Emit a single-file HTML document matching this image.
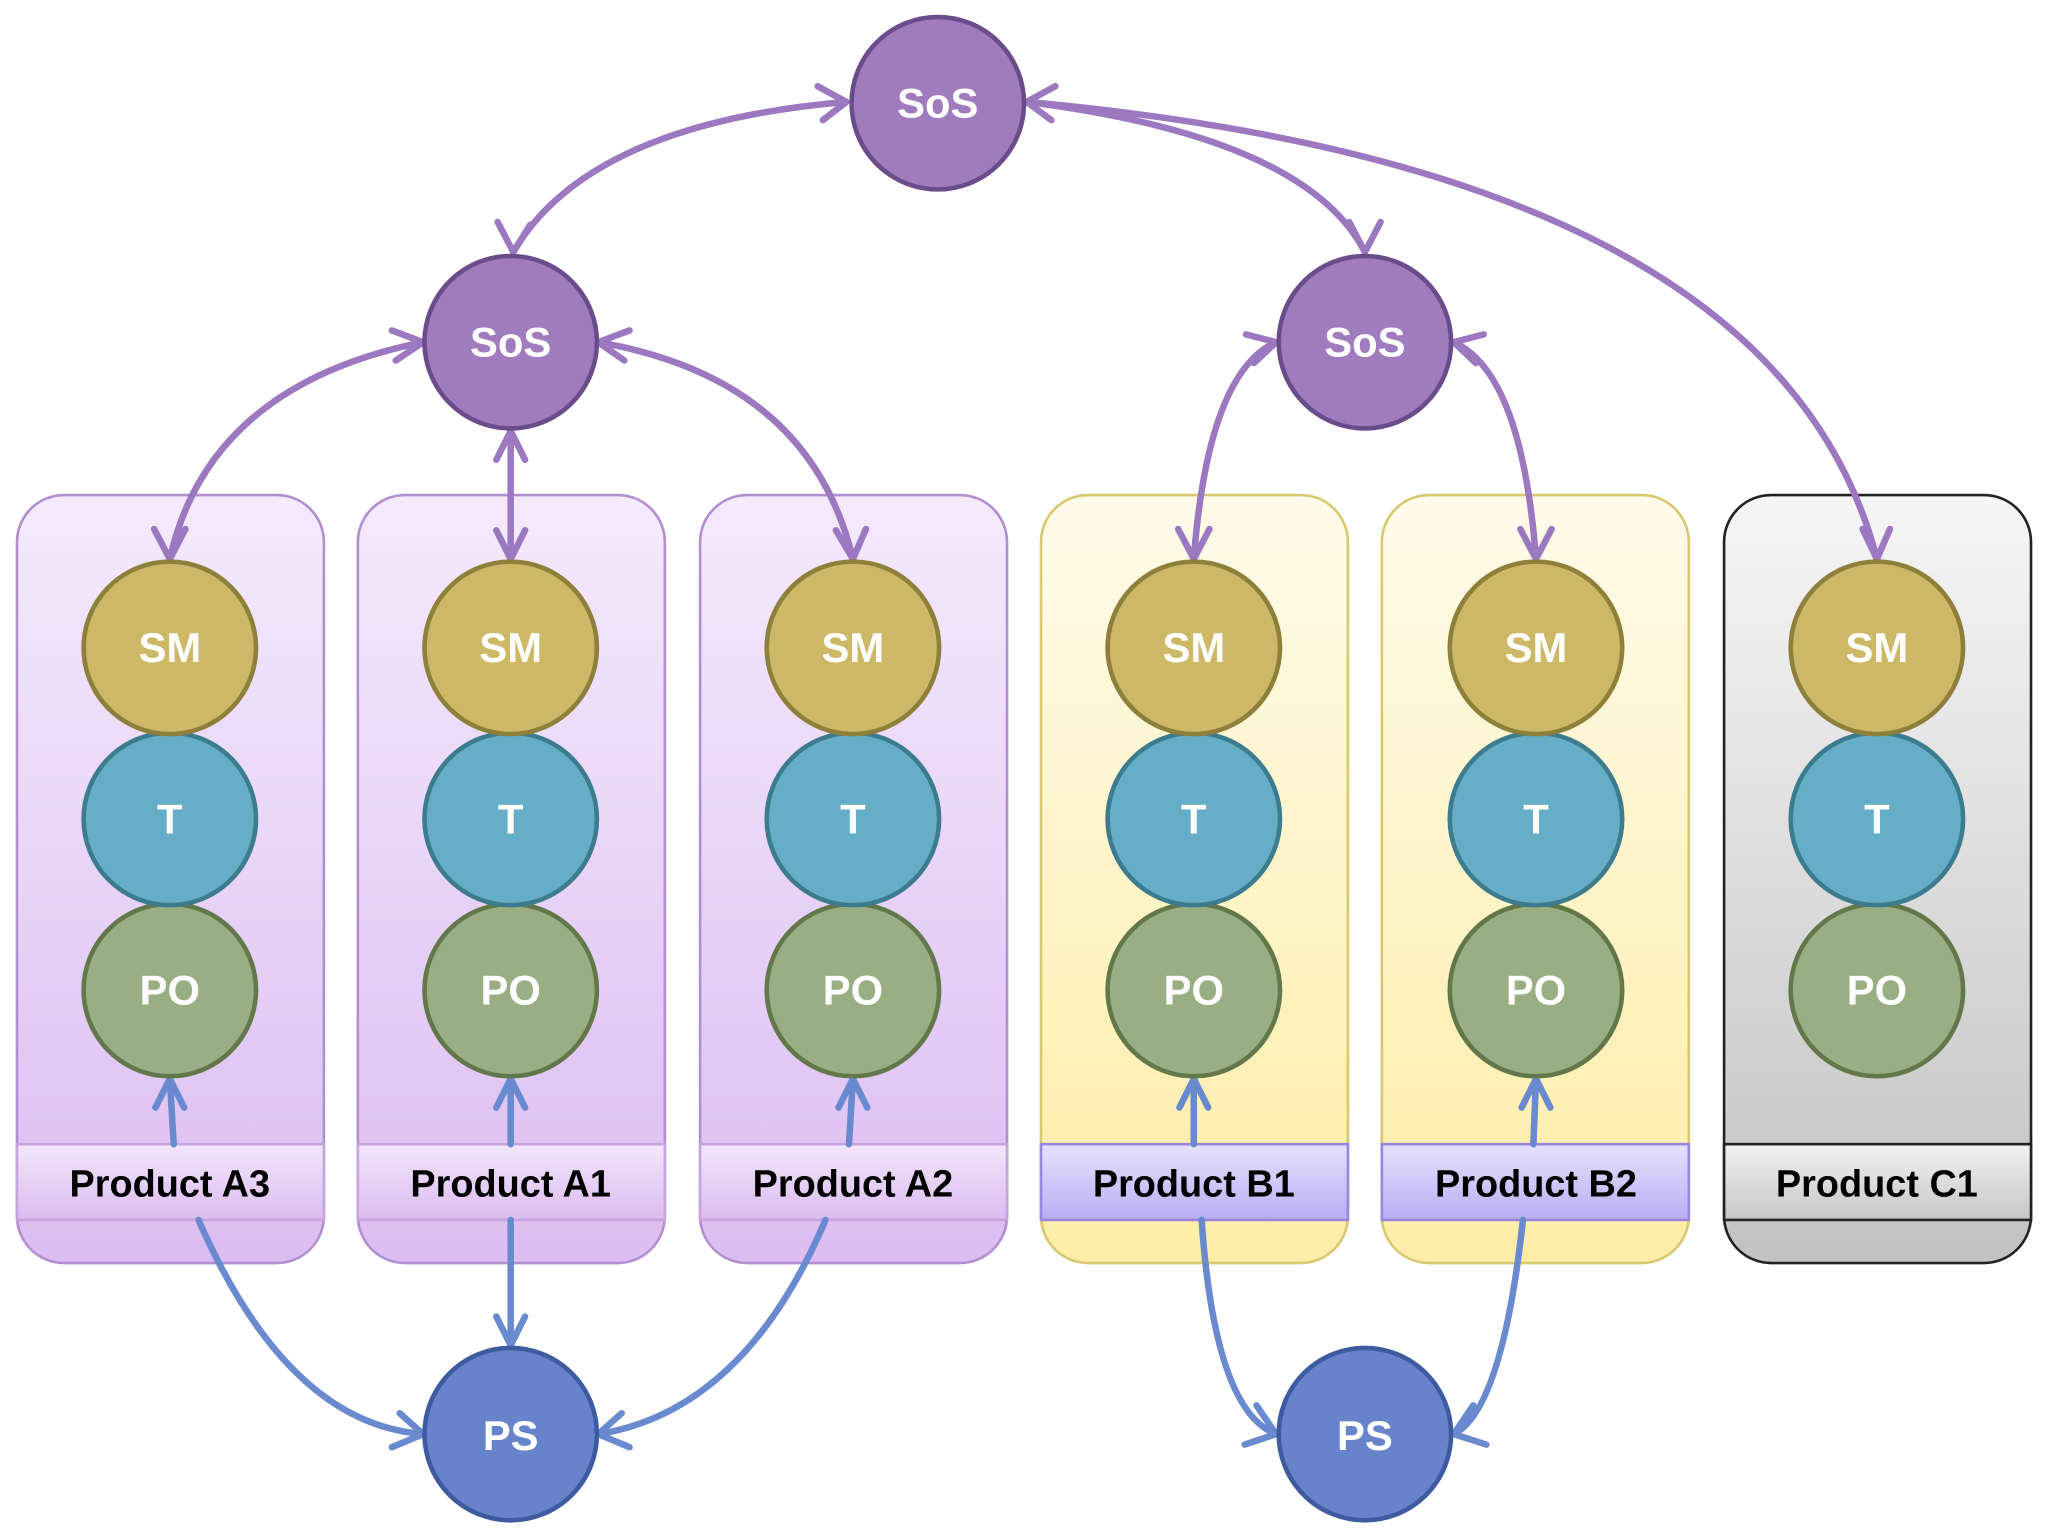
<!DOCTYPE html>
<html><head><style>html,body{margin:0;padding:0;background:#fff;}svg{display:block}</style></head>
<body>
<svg width="2048" height="1536" viewBox="0 0 1568 1176" xmlns="http://www.w3.org/2000/svg" font-family="Liberation Sans, sans-serif">
<defs>
<linearGradient id="gp" x1="0" y1="0" x2="0" y2="1"><stop offset="0" stop-color="#f4eafc"/><stop offset="1" stop-color="#dcbdf2"/></linearGradient>
<linearGradient id="gy" x1="0" y1="0" x2="0" y2="1"><stop offset="0" stop-color="#fffbea"/><stop offset="1" stop-color="#fdeda6"/></linearGradient>
<linearGradient id="gg" x1="0" y1="0" x2="0" y2="1"><stop offset="0" stop-color="#f6f6f6"/><stop offset="1" stop-color="#c2c2c2"/></linearGradient>
<linearGradient id="lp" x1="0" y1="0" x2="0" y2="1"><stop offset="0" stop-color="#f3e6fb"/><stop offset="1" stop-color="#dbbcf0"/></linearGradient>
<linearGradient id="lb" x1="0" y1="0" x2="0" y2="1"><stop offset="0" stop-color="#e6e2fc"/><stop offset="1" stop-color="#b8aef4"/></linearGradient>
<linearGradient id="lg" x1="0" y1="0" x2="0" y2="1"><stop offset="0" stop-color="#f2f2f2"/><stop offset="1" stop-color="#c6c6c6"/></linearGradient>
<marker id="mp" viewBox="0 0 10 10" refX="9" refY="5" markerWidth="6" markerHeight="6" orient="auto-start-reverse" markerUnits="userSpaceOnUse" style="overflow:visible">
</marker>
</defs>
<!-- boxes -->
<g stroke-width="2">
<rect x="13" y="379" width="235" height="588" rx="36" fill="url(#gp)" stroke="#b48fd0"/>
<rect x="274" y="379" width="235" height="588" rx="36" fill="url(#gp)" stroke="#b48fd0"/>
<rect x="536" y="379" width="235" height="588" rx="36" fill="url(#gp)" stroke="#b48fd0"/>
<rect x="797" y="379" width="235" height="588" rx="36" fill="url(#gy)" stroke="#d8c970"/>
<rect x="1058" y="379" width="235" height="588" rx="36" fill="url(#gy)" stroke="#d8c970"/>
<rect x="1320" y="379" width="235" height="588" rx="36" fill="url(#gg)" stroke="#222"/>
<rect x="13" y="876" width="235" height="58" fill="url(#lp)" stroke="#c7a3e0"/>
<rect x="274" y="876" width="235" height="58" fill="url(#lp)" stroke="#c7a3e0"/>
<rect x="536" y="876" width="235" height="58" fill="url(#lp)" stroke="#c7a3e0"/>
<rect x="797" y="876" width="235" height="58" fill="url(#lb)" stroke="#9a86e0"/>
<rect x="1058" y="876" width="235" height="58" fill="url(#lb)" stroke="#9a86e0"/>
<rect x="1320" y="876" width="235" height="58" fill="url(#lg)" stroke="#222"/>
</g>
<g font-size="29" font-weight="bold" fill="#000" text-anchor="middle">
<text x="130" y="916">Product A3</text><text x="391" y="916">Product A1</text><text x="653" y="916">Product A2</text>
<text x="914" y="916">Product B1</text><text x="1176" y="916">Product B2</text><text x="1437" y="916">Product C1</text>
</g>
<!-- purple connectors -->
<g fill="none" stroke="#9c78c0" stroke-width="5" stroke-linecap="round" stroke-linejoin="round">
<path d="M648,78 Q450,95 393,193"/>
<path d="M786,78 Q1000,105 1045,193"/>
<path d="M786,78 Q1360,130 1437,428"/>
<path d="M324,262 Q160,295 130,428"/>
<path d="M391,330 L391,428"/>
<path d="M458,262 Q620,290 653,428"/>
<path d="M977,262 Q925,285 914,428"/>
<path d="M1113,262 Q1165,285 1176,428"/>
<!-- arrowheads -->
<path d="M626,66 L648,78 L630,92"/>
<path d="M381,170 L393,193 L406,172"/>
<path d="M808,66 L786,78 L805,92"/>
<path d="M1033,170 L1045,193 L1057,170"/>
<path d="M1426,405 L1437,428 L1447,405"/>
<path d="M300,253 L324,262 L303,276"/>
<path d="M118,405 L130,428 L142,405"/>
<path d="M380,352 L391,330 L402,352"/>
<path d="M380,406 L391,428 L402,406"/>
<path d="M482,253 L458,262 L478,276"/>
<path d="M640,406 L653,428 L663,405"/>
<path d="M954,256 L977,262 L960,278"/>
<path d="M902,405 L914,428 L926,405"/>
<path d="M1136,256 L1113,262 L1130,278"/>
<path d="M1164,405 L1176,428 L1188,405"/>
</g>
<!-- blue connectors -->
<g fill="none" stroke="#6a8ad0" stroke-width="5" stroke-linecap="round" stroke-linejoin="round">
<path d="M133,876 L130,826"/><path d="M391,876 L391,826"/><path d="M650,876 L653,826"/>
<path d="M914,876 L914,826"/><path d="M1174,876 L1176,826"/>
<path d="M119,848 L130,826 L141,848"/><path d="M380,848 L391,826 L402,848"/><path d="M642,848 L653,826 L664,848"/>
<path d="M903,848 L914,826 L925,848"/><path d="M1165,848 L1176,826 L1187,848"/>
<path d="M152,934 Q220,1090 324,1098"/>
<path d="M391,934 L391,1030"/>
<path d="M632,934 Q570,1080 458,1098"/>
<path d="M920,934 Q930,1080 977,1098"/>
<path d="M1166,934 Q1150,1080 1113,1098"/>
<path d="M306,1082 L324,1098 L300,1108"/>
<path d="M380,1008 L391,1030 L402,1008"/>
<path d="M476,1082 L458,1098 L482,1108"/>
<path d="M962,1076 L977,1098 L953,1106"/>
<path d="M1128,1076 L1113,1098 L1138,1106"/>
</g>
<!-- circles -->
<g stroke-width="3.5">
<circle cx="718" cy="79" r="66" fill="#a07bbd" stroke="#6b4c8a"/>
<circle cx="391" cy="262" r="66" fill="#a07bbd" stroke="#6b4c8a"/>
<circle cx="1045" cy="262" r="66" fill="#a07bbd" stroke="#6b4c8a"/>
<circle cx="391" cy="1098" r="66" fill="#6784cb" stroke="#3f5ba0"/>
<circle cx="1045" cy="1098" r="66" fill="#6784cb" stroke="#3f5ba0"/>
</g>
<g stroke-width="3.5">
<g id="c1">
<circle cx="130" cy="758" r="66" fill="#9aae84" stroke="#62784a"/>
<circle cx="130" cy="627" r="66" fill="#66aec7" stroke="#3d7b8e"/>
<circle cx="130" cy="496" r="66" fill="#ccb866" stroke="#8e7f3a"/>
</g>
<use href="#c1" x="261"/><use href="#c1" x="523"/><use href="#c1" x="784"/><use href="#c1" x="1046"/><use href="#c1" x="1307"/>
</g>
<g font-size="32" font-weight="bold" fill="#fff" text-anchor="middle">
<text x="718" y="90">SoS</text><text x="391" y="273">SoS</text><text x="1045" y="273">SoS</text>
<text x="391" y="1110">PS</text><text x="1045" y="1110">PS</text>
<text x="130" y="507">SM</text><text x="391" y="507">SM</text><text x="653" y="507">SM</text><text x="914" y="507">SM</text><text x="1176" y="507">SM</text><text x="1437" y="507">SM</text>
<text x="130" y="638">T</text><text x="391" y="638">T</text><text x="653" y="638">T</text><text x="914" y="638">T</text><text x="1176" y="638">T</text><text x="1437" y="638">T</text>
<text x="130" y="769">PO</text><text x="391" y="769">PO</text><text x="653" y="769">PO</text><text x="914" y="769">PO</text><text x="1176" y="769">PO</text><text x="1437" y="769">PO</text>
</g>
</svg>
</body></html>
